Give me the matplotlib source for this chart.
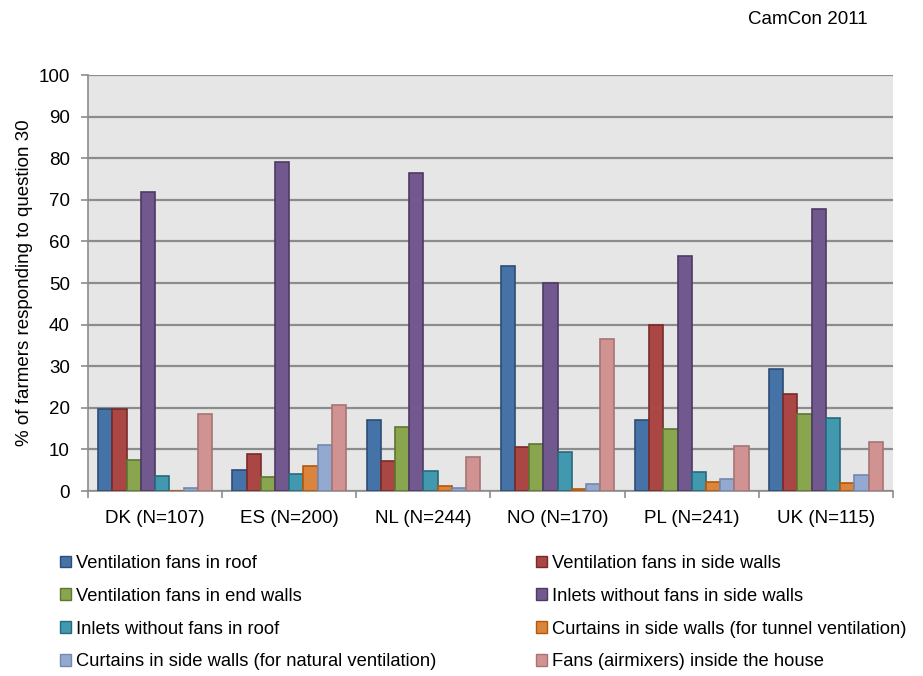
import numpy as np
import matplotlib.pyplot as plt
from matplotlib.patches import Patch

plt.rcParams['font.family'] = ['Liberation Sans', 'DejaVu Sans']

countries = ["DK (N=107)", "ES (N=200)", "NL (N=244)", "NO (N=170)", "PL (N=241)", "UK (N=115)"]
series_names = [
    "Ventilation fans in roof",
    "Ventilation fans in side walls",
    "Ventilation fans in end walls",
    "Inlets without fans in side walls",
    "Inlets without fans in roof",
    "Curtains in side walls (for tunnel ventilation)",
    "Curtains in side walls (for natural ventilation)",
    "Fans (airmixers) inside the house",
]
fans_roof = [19.6, 5.0, 17.1, 54.2, 17.0, 29.4]
fans_side = [19.6, 9.0, 7.3, 10.6, 39.8, 23.4]
fans_end = [7.4, 3.4, 15.5, 11.2, 14.9, 18.6]
inlets_side = [71.9, 79.0, 76.4, 50.1, 56.5, 67.7]
inlets_roof = [3.7, 4.1, 4.9, 9.4, 4.6, 17.6]
curtains_tunnel = [0.0, 6.0, 1.2, 0.5, 2.1, 1.9]
curtains_natural = [0.8, 11.0, 0.8, 1.8, 2.9, 3.9]
airmixers = [18.6, 20.6, 8.2, 36.5, 10.8, 11.7]
values = [fans_roof, fans_side, fans_end, inlets_side, inlets_roof,
          curtains_tunnel, curtains_natural, airmixers]

colors = ["#4572A7", "#AA4643", "#89A54E", "#71588F", "#4198AF", "#DB843D", "#93A9CF", "#D19392"]
edges = ["#2C4D75", "#772C2A", "#5F7530", "#4D3B62", "#276A7C", "#B65708", "#7388B1", "#A57574"]

fs = 13.5

fig = plt.figure(figsize=(9.23, 6.76), dpi=100)
ax = fig.add_axes([88 / 923, 1 - 491 / 676, 805 / 923, 416 / 676])
ax.set_facecolor("#E6E6E6")

x = np.arange(len(countries))
w = 0.106
for i, (vals, c, e) in enumerate(zip(values, colors, edges)):
    ax.bar(x + (i - 3.5) * w, vals, w, color=c, edgecolor=e, linewidth=1.2, zorder=3)

ax.set_xlim(-0.5, len(countries) - 0.5)
ax.set_ylim(0, 100)
ax.set_yticks(range(0, 101, 10))
ax.yaxis.grid(True, color="#8C8C8C", linewidth=1.6, zorder=1)
ax.set_xticks(x)
ax.set_xticklabels(countries, fontsize=fs)
ax.set_xticks(np.arange(-0.5, len(countries)), minor=True)
ax.tick_params(axis='x', which='major', length=0, pad=14)
ax.tick_params(axis='x', which='minor', length=5, color="#8C8C8C", width=1.2)
ax.tick_params(axis='y', labelsize=fs, length=5, color="#8C8C8C", width=1.2, pad=8)
for s in ['top', 'right']:
    ax.spines[s].set_visible(False)
for s in ['left', 'bottom']:
    ax.spines[s].set_color("#8C8C8C")
    ax.spines[s].set_linewidth(1.2)
ax.set_ylabel("% of farmers responding to question 30", fontsize=fs, labelpad=4)

fig.text(808 / 923, 1 - 20 / 676, "CamCon 2011", fontsize=fs, ha='center', va='center')

handles = [Patch(facecolor=c, edgecolor=e, label=n) for c, e, n in zip(colors, edges, series_names)]
leg_kw = dict(loc='upper left', frameon=False, fontsize=13.2, handlelength=0.6, handleheight=0.6,
              handletextpad=0.25, labelspacing=0.86, borderaxespad=0, borderpad=0)
fig.legend(handles=handles[0::2], bbox_to_anchor=(60 / 923, 1 - 555 / 676), **leg_kw)
fig.legend(handles=handles[1::2], bbox_to_anchor=(536 / 923, 1 - 555 / 676), **leg_kw)

fig.savefig("out.png", dpi=100)
